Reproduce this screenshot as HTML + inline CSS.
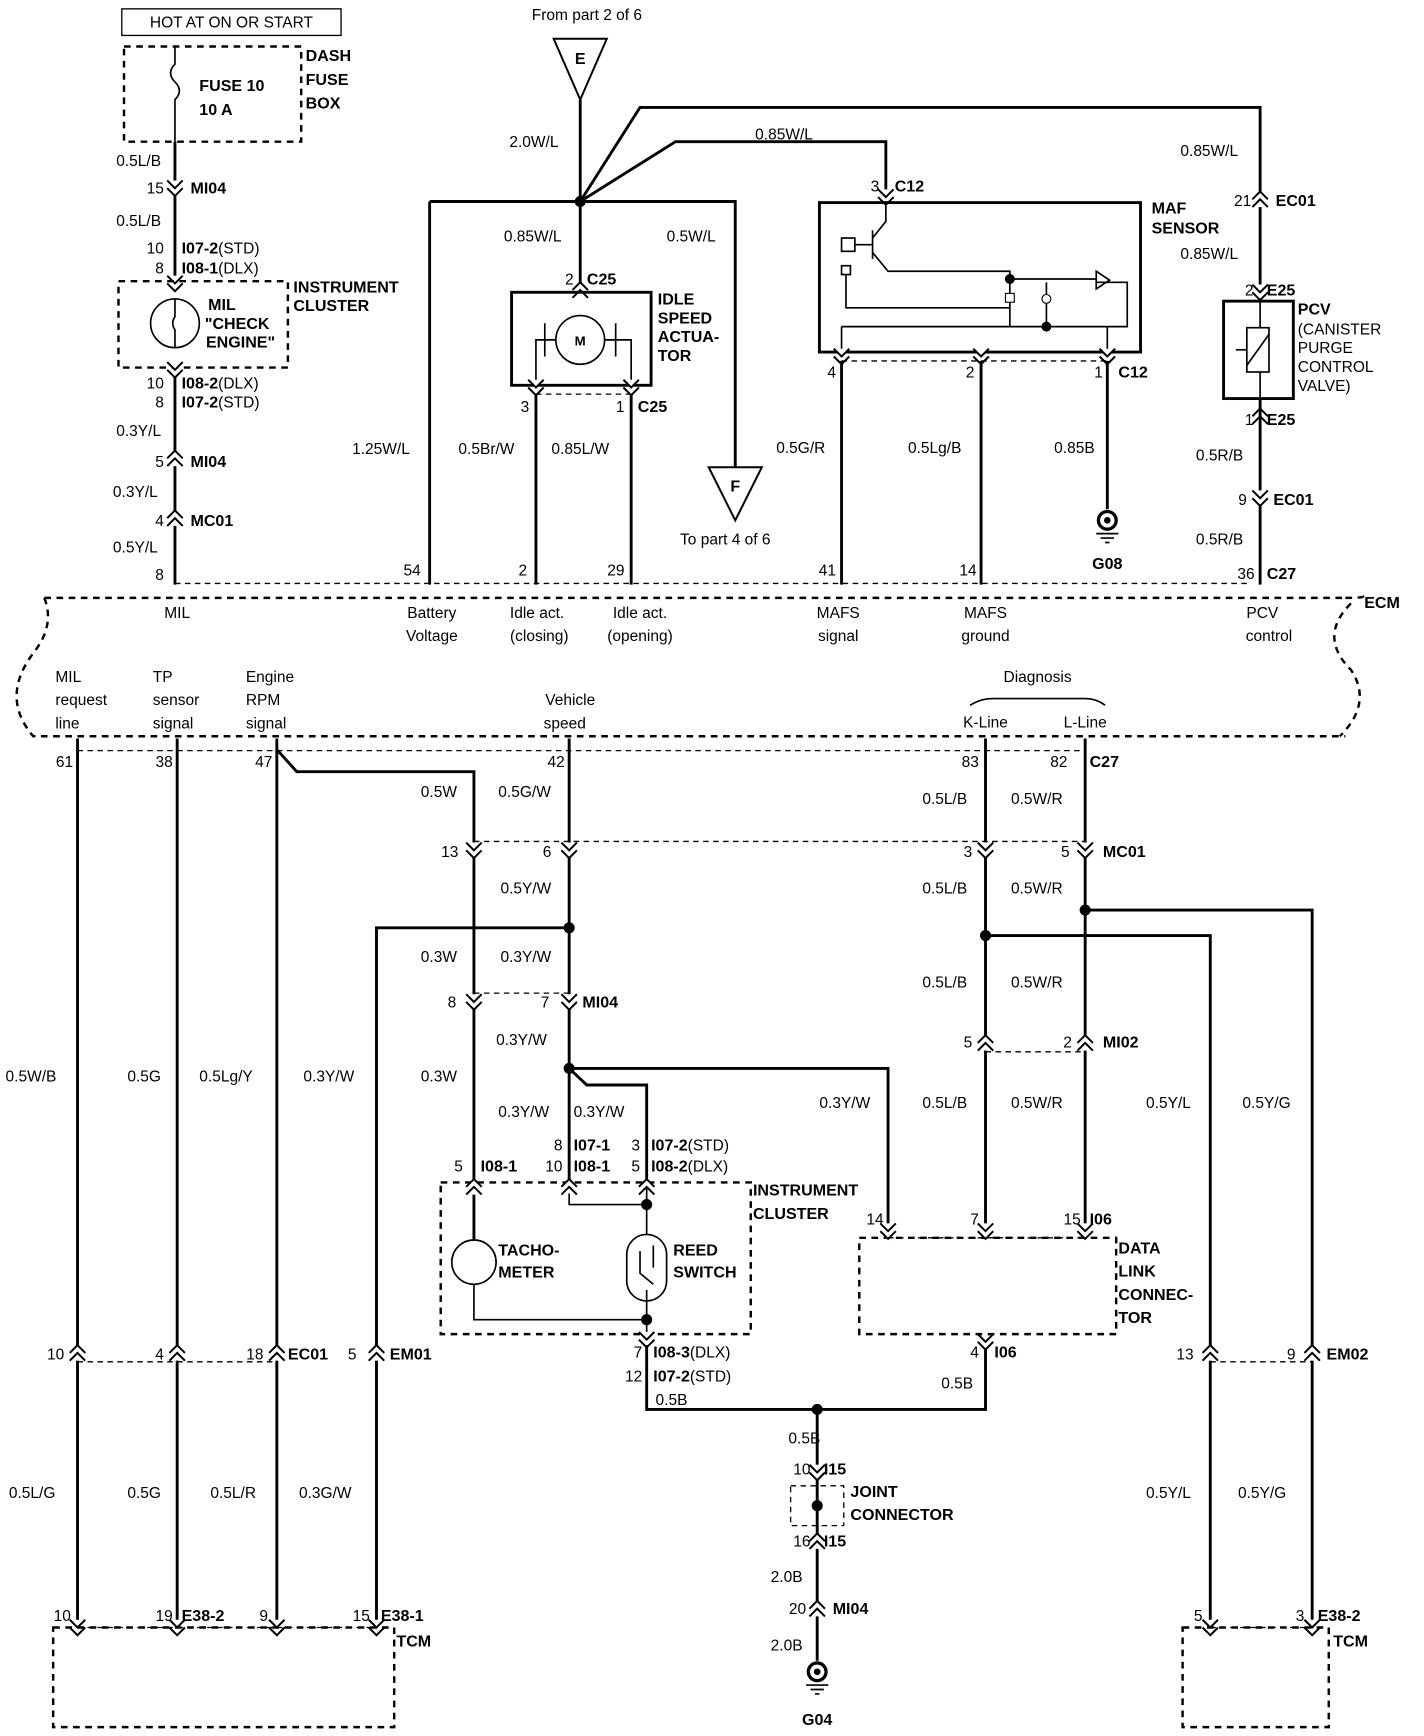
<!DOCTYPE html>
<html><head><meta charset="utf-8"><style>
html,body{margin:0;padding:0;background:#fff}
svg{display:block}
text{font-family:"Liberation Sans",sans-serif;font-size:14px;fill:#000}
.b{font-weight:bold;font-size:14.5px}
.w{stroke:#000;stroke-width:2.6;fill:none}
.t{stroke:#000;stroke-width:1.5;fill:none}
.d{stroke:#000;stroke-width:1.2;fill:none;stroke-dasharray:5,4}
.D{stroke:#000;stroke-width:2.2;fill:none;stroke-dasharray:6,5}
.m{text-anchor:middle}
.e{text-anchor:end}
</style></head><body>
<svg width="1424" height="1736" viewBox="0 0 1286 1568" preserveAspectRatio="none" xmlns="http://www.w3.org/2000/svg">
<defs>
<g id="cd"><path d="M-7,-7 L0,0 L7,-7 M-7,0 L0,7 L7,0" stroke="#000" stroke-width="1.8" fill="#fff"/></g>
<g id="cu"><path d="M-7,7 L0,0 L7,7 M-7,0 L0,-7 L7,0" stroke="#000" stroke-width="1.8" fill="#fff"/></g>
<g id="gnd"><circle cx="0" cy="0" r="8" fill="#fff" stroke="#000" stroke-width="3"/><circle cx="0" cy="0" r="3" fill="#000"/><path d="M-10,12 H10 M-6,16 H6 M-2,20 H2" stroke="#000" stroke-width="1.5"/></g>
</defs>

<rect x="110" y="8" width="198" height="24" fill="none" stroke="#000" stroke-width="1.2"/>
<text x="209" y="25" class="m">HOT AT ON OR START</text>
<rect x="112" y="42" width="160" height="86" class="D"/>
<path d="M158,42 V58 q-8,8 0,16 q8,8 0,16 V128" class="t"/>
<text x="180" y="82" class="b">FUSE 10</text><text x="180" y="104" class="b">10 A</text>
<text x="276" y="55" class="b">DASH</text><text x="276" y="77" class="b">FUSE</text><text x="276" y="98" class="b">BOX</text>
<path d="M158,128 V254 M158,332 V528" class="w"/>
<text x="105" y="150">0.5L/B</text>
<use href="#cd" x="158" y="170"/><text x="148" y="175" class="e">15</text><text x="172" y="175" class="b">MI04</text>
<text x="105" y="204">0.5L/B</text>
<text x="148" y="229" class="e">10</text><text x="164" y="229"><tspan class="b">I07-2</tspan>(STD)</text>
<text x="148" y="247" class="e">8</text><text x="164" y="247"><tspan class="b">I08-1</tspan>(DLX)</text>
<use href="#cd" x="158" y="256"/>
<rect x="107" y="254" width="153" height="78" class="D"/>
<circle cx="158" cy="292" r="22" class="t"/><path d="M158,270 V286 q-4,6 0,12 V314" class="t"/>
<text x="188" y="280" class="b">MIL</text><text x="185" y="297" class="b">"CHECK</text><text x="186" y="314" class="b">ENGINE"</text>
<text x="265" y="264" class="b">INSTRUMENT</text><text x="265" y="281" class="b">CLUSTER</text>
<use href="#cd" x="158" y="334"/>
<text x="148" y="351" class="e">10</text><text x="164" y="351"><tspan class="b">I08-2</tspan>(DLX)</text>
<text x="148" y="368" class="e">8</text><text x="164" y="368"><tspan class="b">I07-2</tspan>(STD)</text>
<text x="105" y="394">0.3Y/L</text>
<use href="#cu" x="158" y="414"/><text x="148" y="422" class="e">5</text><text x="172" y="422" class="b">MI04</text>
<text x="102" y="449">0.3Y/L</text>
<use href="#cu" x="158" y="468"/><text x="148" y="475" class="e">4</text><text x="172" y="475" class="b">MC01</text>
<text x="102" y="499">0.5Y/L</text>
<text x="148" y="524" class="e">8</text>

<text x="530" y="18" class="m">From part 2 of 6</text>
<path d="M500,35 H548 L524,90 Z" fill="#fff" stroke="#000" stroke-width="1.8"/><text x="524" y="58" class="m b">E</text>
<path d="M524,90 V264 M388,182 H664 V422 M388,182 V528 M524,182 L578,97 H1138 V272 M524,182 L610,128 H800 V183" class="w"/>
<circle cx="524" cy="182" r="5"/>
<text x="460" y="133">2.0W/L</text><text x="682" y="126">0.85W/L</text>
<text x="455" y="218">0.85W/L</text><text x="602" y="218">0.5W/L</text>
<path d="M640,422 H688 L664,470 Z" fill="#fff" stroke="#000" stroke-width="1.8"/><text x="664" y="444" class="m b">F</text>
<text x="655" y="492" class="m">To part 4 of 6</text>

<use href="#cu" x="524" y="262"/><text x="518" y="257" class="e">2</text><text x="530" y="257" class="b">C25</text>
<rect x="462" y="264" width="126" height="84" fill="none" stroke="#000" stroke-width="2.6"/>
<circle cx="524" cy="307" r="22" class="t"/><text x="524" y="312" class="m b" style="font-size:12px">M</text>
<path d="M502,307 H484 V348 M546,307 H570 V348" class="t"/>
<path d="M492,292 V322 M556,292 V322" class="t"/>
<use href="#cd" x="484" y="350"/><use href="#cd" x="570" y="350"/>
<path d="M484,356 H570" class="d"/>
<path d="M484,356 V528 M570,356 V528" class="w"/>
<text x="478" y="372" class="e">3</text><text x="564" y="372" class="e">1</text><text x="576" y="372" class="b">C25</text>
<text x="594" y="275" class="b">IDLE</text><text x="594" y="292" class="b">SPEED</text><text x="594" y="309" class="b">ACTUA-</text><text x="594" y="326" class="b">TOR</text>
<text x="318" y="410">1.25W/L</text><text x="414" y="410">0.5Br/W</text><text x="498" y="410">0.85L/W</text>

<use href="#cd" x="800" y="178"/><text x="794" y="173" class="e">3</text><text x="808" y="173" class="b">C12</text>
<rect x="740" y="183" width="290" height="135" fill="none" stroke="#000" stroke-width="2.6"/>
<rect x="760" y="215" width="12" height="12" class="t"/><rect x="760" y="240" width="8" height="8" class="t"/>
<path d="M772,221 H788 M788,208 V234 M788,215 L800,200 V183 M788,228 L802,245 H912 V295 H1018 V255 H990 M912,252 H990 M764,248 V278 H912 M945,255 V295 M760,295 V318 M760,295 H1000 V318" class="t"/>
<path d="M990,245 L1002,253 L990,261 Z" class="t"/>
<circle cx="912" cy="252" r="4.5"/><circle cx="945" cy="295" r="4.5"/>
<rect x="908" y="265" width="8" height="8" fill="#fff" stroke="#000"/><circle cx="945" cy="270" r="4" fill="#fff" stroke="#000"/>
<text x="1040" y="193" class="b">MAF</text><text x="1040" y="211" class="b">SENSOR</text>
<use href="#cd" x="760" y="322"/><use href="#cd" x="886" y="322"/><use href="#cd" x="1000" y="322"/>
<path d="M760,326 H1000" class="d"/>
<path d="M760,326 V528 M886,326 V528 M1000,326 V460" class="w"/>
<text x="755" y="341" class="e">4</text><text x="880" y="341" class="e">2</text><text x="996" y="341" class="e">1</text><text x="1010" y="341" class="b">C12</text>
<text x="701" y="409">0.5G/R</text><text x="820" y="409">0.5Lg/B</text><text x="952" y="409">0.85B</text>
<use href="#gnd" x="1000" y="470"/><text x="1000" y="514" class="m b">G08</text>

<text x="1066" y="141">0.85W/L</text>
<use href="#cu" x="1138" y="180"/><text x="1130" y="186" class="e">21</text><text x="1152" y="186" class="b">EC01</text>
<text x="1066" y="234">0.85W/L</text>
<use href="#cd" x="1138" y="264"/><text x="1132" y="267" class="e">2</text><text x="1144" y="267" class="b">E25</text>
<rect x="1105" y="272" width="63" height="88" fill="none" stroke="#000" stroke-width="2.6"/>
<rect x="1126" y="296" width="20" height="40" class="t"/><path d="M1126,330 L1146,302 M1138,272 V296 M1138,336 V360 M1116,316 H1126" class="t"/>
<text x="1172" y="284" class="b">PCV</text><text x="1172" y="302">(CANISTER</text><text x="1172" y="319">PURGE</text><text x="1172" y="336">CONTROL</text><text x="1172" y="353">VALVE)</text>
<use href="#cu" x="1138" y="376"/><text x="1132" y="384" class="e">1</text><text x="1144" y="384" class="b">E25</text>
<path d="M1138,360 V528" class="w"/>
<text x="1080" y="416">0.5R/B</text>
<use href="#cd" x="1138" y="450"/><text x="1126" y="456" class="e">9</text><text x="1150" y="456" class="b">EC01</text>
<text x="1080" y="492">0.5R/B</text>
<text x="1133" y="523" class="e">36</text><text x="1144" y="523" class="b">C27</text>

<text x="380" y="520" class="e">54</text><text x="476" y="520" class="e">2</text><text x="564" y="520" class="e">29</text><text x="755" y="520" class="e">41</text><text x="882" y="520" class="e">14</text>
<path d="M158,527 H1130" class="d"/>
<path d="M40,540 H1215 M40,540 q10,25 -10,50 q-30,40 0,75 H1215 M1215,540 q20,0 15,-2 M1220,545 q-30,30 0,60 q20,30 -10,60" class="D"/>
<text x="1232" y="549" class="b">ECM</text>
<text x="160" y="558" class="m">MIL</text>
<text x="390" y="558" class="m">Battery</text><text x="390" y="579" class="m">Voltage</text>
<text x="485" y="558" class="m">Idle act.</text><text x="487" y="579" class="m">(closing)</text>
<text x="578" y="558" class="m">Idle act.</text><text x="578" y="579" class="m">(opening)</text>
<text x="757" y="558" class="m">MAFS</text><text x="757" y="579" class="m">signal</text>
<text x="890" y="558" class="m">MAFS</text><text x="890" y="579" class="m">ground</text>
<text x="1140" y="558" class="m">PCV</text><text x="1146" y="579" class="m">control</text>
<text x="50" y="616">MIL</text><text x="50" y="637">request</text><text x="50" y="658">line</text>
<text x="138" y="616">TP</text><text x="138" y="637">sensor</text><text x="138" y="658">signal</text>
<text x="222" y="616">Engine</text><text x="222" y="637">RPM</text><text x="222" y="658">signal</text>
<text x="515" y="637" class="m">Vehicle</text><text x="510" y="658" class="m">speed</text>
<text x="937" y="616" class="m">Diagnosis</text>
<path d="M876,637 q10,-6 20,-6 H980 q10,0 18,6" class="t"/>
<text x="890" y="657" class="m">K-Line</text><text x="980" y="657" class="m">L-Line</text>
<path d="M70,678 H980" class="d"/>
<text x="66" y="693" class="e">61</text><text x="156" y="693" class="e">38</text><text x="246" y="693" class="e">47</text><text x="510" y="693" class="e">42</text><text x="884" y="693" class="e">83</text><text x="964" y="693" class="e">82</text><text x="984" y="693" class="b">C27</text>

<path d="M70,667 V1470 M160,667 V1470 M250,667 V1470 M250,677 L268,697 H428 V1120 M514,667 V1078 M340,1470 V838 H514 M514,965 L530,980 H584 V1068 M514,965 H802 V1110 M890,667 V1110 M980,667 V1110 M890,845 H1093 V1470 M980,822 H1185 V1470" class="w"/>
<circle cx="514" cy="838" r="5"/><circle cx="514" cy="965" r="5"/><circle cx="890" cy="845" r="5"/><circle cx="980" cy="822" r="5"/>
<use href="#cd" x="428" y="768"/><use href="#cd" x="514" y="768"/><use href="#cd" x="890" y="768"/><use href="#cd" x="980" y="768"/>
<path d="M428,760 H980" class="d"/>
<use href="#cd" x="428" y="905"/><use href="#cd" x="514" y="905"/><path d="M428,897 H514" class="d"/>
<use href="#cu" x="890" y="942"/><use href="#cu" x="980" y="942"/><path d="M890,950 H980" class="d"/>
<use href="#cu" x="70" y="1222"/><use href="#cu" x="160" y="1222"/><use href="#cu" x="250" y="1222"/><use href="#cu" x="340" y="1222"/>
<path d="M70,1230 H250" class="d"/>
<use href="#cu" x="1093" y="1222"/><use href="#cu" x="1185" y="1222"/><path d="M1093,1230 H1185" class="d"/>
<use href="#cd" x="70" y="1470"/><use href="#cd" x="160" y="1470"/><use href="#cd" x="250" y="1470"/><use href="#cd" x="340" y="1470"/>
<use href="#cd" x="1093" y="1470"/><use href="#cd" x="1185" y="1470"/>

<text x="380" y="720">0.5W</text><text x="450" y="720">0.5G/W</text>
<text x="414" y="774" class="e">13</text><text x="498" y="774" class="e">6</text>
<text x="452" y="807">0.5Y/W</text>
<text x="380" y="869">0.3W</text><text x="452" y="869">0.3Y/W</text>
<text x="412" y="910" class="e">8</text><text x="496" y="910" class="e">7</text><text x="526" y="910" class="b">MI04</text>
<text x="448" y="944">0.3Y/W</text>
<text x="5" y="977">0.5W/B</text><text x="115" y="977">0.5G</text><text x="180" y="977">0.5Lg/Y</text><text x="274" y="977">0.3Y/W</text><text x="380" y="977">0.3W</text>
<text x="450" y="1009">0.3Y/W</text><text x="518" y="1009">0.3Y/W</text>
<text x="740" y="1001">0.3Y/W</text>
<text x="508" y="1039" class="e">8</text><text x="518" y="1039" class="b">I07-1</text>
<text x="508" y="1058" class="e">10</text><text x="518" y="1058" class="b">I08-1</text>
<text x="578" y="1039" class="e">3</text><text x="588" y="1039"><tspan class="b">I07-2</tspan>(STD)</text>
<text x="578" y="1058" class="e">5</text><text x="588" y="1058"><tspan class="b">I08-2</tspan>(DLX)</text>
<text x="418" y="1058" class="e">5</text><text x="434" y="1058" class="b">I08-1</text>

<rect x="398" y="1068" width="280" height="137" class="D"/>
<use href="#cu" x="428" y="1072"/><use href="#cu" x="514" y="1072"/><use href="#cu" x="584" y="1072"/>
<path d="M514,1078 V1088 H584 M584,1072 V1115 M584,1165 V1215 M428,1160 V1192 H584" class="t"/>
<circle cx="584" cy="1088" r="5"/><circle cx="584" cy="1192" r="5"/>
<circle cx="428" cy="1140" r="20" class="t"/>
<rect x="566" y="1115" width="36" height="60" rx="18" class="t"/><path d="M578,1130 V1150 L590,1160 M590,1125 V1145" class="t"/>
<text x="450" y="1134" class="b">TACHO-</text><text x="450" y="1154" class="b">METER</text>
<text x="608" y="1134" class="b">REED</text><text x="608" y="1154" class="b">SWITCH</text>
<text x="680" y="1080" class="b">INSTRUMENT</text><text x="680" y="1101" class="b">CLUSTER</text>
<use href="#cd" x="584" y="1210"/>
<text x="580" y="1226" class="e">7</text><text x="590" y="1226"><tspan class="b">I08-3</tspan>(DLX)</text>
<text x="580" y="1248" class="e">12</text><text x="590" y="1248"><tspan class="b">I07-2</tspan>(STD)</text>
<path d="M584,1215 V1273 H890 V1215 M738,1273 V1500" class="w"/>
<circle cx="738" cy="1273" r="5"/>
<text x="592" y="1269">0.5B</text><text x="850" y="1254">0.5B</text>
<use href="#cd" x="890" y="1212"/><text x="884" y="1226" class="e">4</text><text x="898" y="1226" class="b">I06</text>

<rect x="776" y="1118" width="232" height="87" class="D"/>
<use href="#cd" x="802" y="1112"/><use href="#cd" x="890" y="1112"/><use href="#cd" x="980" y="1112"/>
<path d="M802,1118 H980" class="d"/>
<text x="798" y="1106" class="e">14</text><text x="884" y="1106" class="e">7</text><text x="976" y="1106" class="e">15</text><text x="984" y="1106" class="b">I06</text>
<text x="1010" y="1132" class="b">DATA</text><text x="1010" y="1153" class="b">LINK</text><text x="1010" y="1174" class="b">CONNEC-</text><text x="1010" y="1195" class="b">TOR</text>

<text x="833" y="726">0.5L/B</text><text x="913" y="726">0.5W/R</text>
<text x="878" y="774" class="e">3</text><text x="966" y="774" class="e">5</text><text x="996" y="774" class="b">MC01</text>
<text x="833" y="807">0.5L/B</text><text x="913" y="807">0.5W/R</text>
<text x="833" y="892">0.5L/B</text><text x="913" y="892">0.5W/R</text>
<text x="878" y="946" class="e">5</text><text x="968" y="946" class="e">2</text><text x="996" y="946" class="b">MI02</text>
<text x="833" y="1001">0.5L/B</text><text x="913" y="1001">0.5W/R</text>
<text x="1035" y="1001">0.5Y/L</text><text x="1122" y="1001">0.5Y/G</text>

<text x="58" y="1228" class="e">10</text><text x="148" y="1228" class="e">4</text><text x="238" y="1228" class="e">18</text><text x="260" y="1228" class="b">EC01</text><text x="322" y="1228" class="e">5</text><text x="352" y="1228" class="b">EM01</text>
<text x="1078" y="1228" class="e">13</text><text x="1170" y="1228" class="e">9</text><text x="1198" y="1228" class="b">EM02</text>
<text x="8" y="1353">0.5L/G</text><text x="115" y="1353">0.5G</text><text x="190" y="1353">0.5L/R</text><text x="270" y="1353">0.3G/W</text>
<text x="1035" y="1353">0.5Y/L</text><text x="1118" y="1353">0.5Y/G</text>

<text x="712" y="1304">0.5B</text>
<use href="#cd" x="738" y="1330"/><text x="732" y="1332" class="e">10</text><text x="744" y="1332" class="b">I15</text>
<rect x="714" y="1342" width="48" height="36" class="d"/><circle cx="738" cy="1360" r="5"/>
<text x="768" y="1352" class="b">JOINT</text><text x="768" y="1373" class="b">CONNECTOR</text>
<use href="#cu" x="738" y="1392"/><text x="732" y="1397" class="e">16</text><text x="744" y="1397" class="b">I15</text>
<text x="696" y="1429">2.0B</text>
<use href="#cu" x="738" y="1453"/><text x="728" y="1458" class="e">20</text><text x="752" y="1458" class="b">MI04</text>
<text x="696" y="1491">2.0B</text>
<use href="#gnd" x="738" y="1510"/><text x="738" y="1558" class="m b">G04</text>

<path d="M70,1470 H340" class="d"/>
<rect x="48" y="1470" width="308" height="90" class="D"/>
<text x="64" y="1464" class="e">10</text><text x="156" y="1464" class="e">19</text><text x="164" y="1464" class="b">E38-2</text><text x="242" y="1464" class="e">9</text><text x="334" y="1464" class="e">15</text><text x="344" y="1464" class="b">E38-1</text>
<text x="358" y="1487" class="b">TCM</text>
<path d="M1093,1470 H1185" class="d"/>
<rect x="1068" y="1470" width="132" height="90" class="D"/>
<text x="1086" y="1464" class="e">5</text><text x="1178" y="1464" class="e">3</text><text x="1190" y="1464" class="b">E38-2</text>
<text x="1204" y="1487" class="b">TCM</text>
</svg>
</body></html>
